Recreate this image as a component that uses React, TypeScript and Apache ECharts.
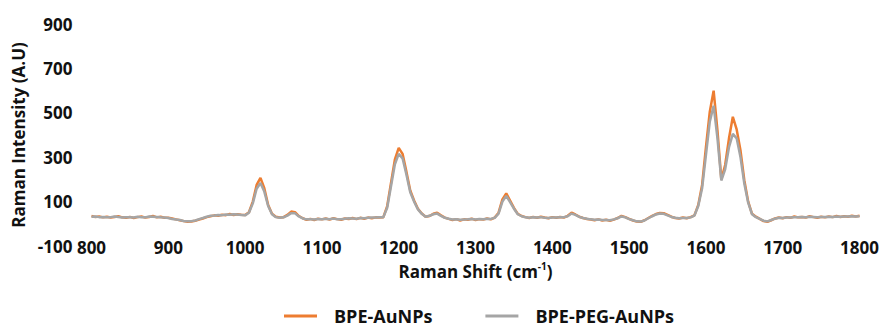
import { useEffect, useRef } from "react";
import * as echarts from "echarts";

// Raman shift sampling grid (cm-1)
const X_START = 800;
const X_STEP = 5;

const SERIES_NAMES = ["BPE-AuNPs", "BPE-PEG-AuNPs"];
const SERIES_COLORS = ["#ED7D31", "#A5A5A5"];

// Values, 800..1800 cm-1 every 5 cm-1
const BPE_AUNPS = [
  35, 31, 33, 29, 32, 28, 31, 34, 29, 27,
  31, 26, 30, 33, 28, 31, 35, 29, 32, 27,
  27, 24, 20, 16, 12, 9, 10, 14, 19, 24,
  30, 34, 38, 36, 41, 39, 44, 40, 43, 41,
  40, 52, 100, 175, 207, 160, 85, 45, 32, 28,
  30, 40, 55, 52, 35, 25, 18, 22, 17, 23,
  20, 24, 19, 25, 21, 18, 24, 22, 26, 21,
  27, 23, 28, 25, 29, 28, 30, 80, 185, 290,
  342, 315, 235, 150, 105, 68, 46, 32, 35, 45,
  50, 38, 28, 22, 17, 21, 15, 20, 18, 23,
  17, 21, 19, 24, 20, 28, 50, 110, 137, 105,
  72, 45, 35, 30, 26, 31, 27, 32, 28, 25,
  30, 27, 31, 28, 36, 50, 42, 32, 26, 22,
  19, 16, 20, 15, 18, 14, 19, 26, 36, 30,
  22, 15, 10, 9, 16, 26, 36, 44, 49, 48,
  40, 32, 26, 24, 28, 25, 30, 38, 85, 175,
  345, 505, 600, 420, 200, 265, 385, 482, 425, 330,
  195, 100, 45, 32, 22, 12, 9, 16, 24, 28,
  25, 30, 27, 33, 29, 31, 28, 34, 30, 27,
  32, 29, 33, 30, 35, 31, 34, 32, 36, 33,
  36,
];

const BPE_PEG_AUNPS = [
  32, 33, 30, 31, 29, 30, 33, 31, 28, 30,
  29, 28, 32, 30, 29, 33, 32, 31, 29, 28,
  26, 22, 19, 17, 13, 11, 12, 15, 21, 26,
  32, 36, 37, 40, 39, 42, 41, 43, 42, 40,
  38, 50, 92, 158, 184, 145, 80, 43, 30, 27,
  29, 37, 48, 47, 33, 24, 20, 21, 19, 22,
  21, 23, 21, 24, 20, 21, 23, 25, 24, 23,
  26, 25, 27, 28, 28, 29, 30, 72, 170, 268,
  315, 295, 222, 142, 100, 65, 45, 32, 36, 43,
  46, 36, 27, 23, 19, 20, 18, 19, 20, 22,
  19, 22, 21, 23, 22, 27, 46, 100, 126, 98,
  68, 43, 34, 29, 27, 29, 28, 30, 27, 26,
  28, 28, 29, 30, 34, 46, 40, 31, 26, 23,
  20, 18, 19, 17, 17, 16, 20, 25, 33, 29,
  21, 16, 11, 10, 15, 25, 34, 42, 46, 45,
  38, 31, 27, 25, 26, 26, 29, 37, 80, 160,
  310, 460, 532, 385, 195, 245, 345, 405, 385, 300,
  180, 95, 43, 30, 22, 14, 11, 17, 23, 27,
  26, 28, 28, 30, 30, 31, 30, 32, 31, 30,
  31, 31, 32, 31, 33, 32, 33, 33, 34, 33,
  34,
];

const X_AXIS = { min: 800, max: 1800, interval: 100 };
const Y_AXIS = { min: -100, max: 900, interval: 200 };

const FONT = "'Open Sans', 'Noto Sans', 'DejaVu Sans', sans-serif";
const TEXT_COLOR = "#111111";

function toPairs(values: number[]) {
  return values.map((v, i) => [X_START + i * X_STEP, v]);
}

export default function App() {
  const ref = useRef<HTMLDivElement>(null);

  useEffect(() => {
    if (!ref.current) return;
    const chart = echarts.init(ref.current, null, { renderer: "svg" });
    const allValues = [BPE_AUNPS, BPE_PEG_AUNPS];
    chart.setOption({
      animation: false,
      backgroundColor: "#ffffff",
      grid: { left: 91.5, right: 22, top: 24, bottom: 81, containLabel: false },
      legend: {
        left: 284,
        top: 306,
        padding: 0,
        icon: "rect",
        itemWidth: 33,
        itemHeight: 3,
        itemGap: 53,
        data: SERIES_NAMES,
        textStyle: {
          fontFamily: FONT,
          fontSize: 18,
          lineHeight: 20,
          fontWeight: "bold",
          color: TEXT_COLOR,
          padding: [0, 0, 0, 12],
        },
      },
      xAxis: {
        type: "value",
        min: X_AXIS.min,
        max: X_AXIS.max,
        interval: X_AXIS.interval,
        name: "{t|Raman Shift (cm}{s|-1}{t|)}",
        nameLocation: "middle",
        nameGap: 14,
        nameTextStyle: {
          rich: {
            t: { fontFamily: FONT, fontSize: 17, fontWeight: "bold", color: TEXT_COLOR, lineHeight: 22 },
            s: { fontFamily: FONT, fontSize: 10, fontWeight: "bold", color: TEXT_COLOR, verticalAlign: "top", lineHeight: 12 },
          },
        },
        axisLine: { show: false },
        axisTick: { show: false },
        splitLine: { show: false },
        axisLabel: {
          margin: -7,
          fontFamily: FONT,
          fontSize: 17,
          fontWeight: "bold",
          color: TEXT_COLOR,
          formatter: (v: number) => String(v),
        },
      },
      yAxis: {
        type: "value",
        min: Y_AXIS.min,
        max: Y_AXIS.max,
        interval: Y_AXIS.interval,
        name: "Raman Intensity (A.U)",
        nameLocation: "middle",
        nameGap: 62,
        nameTextStyle: { fontFamily: FONT, fontSize: 17, fontWeight: "bold", color: TEXT_COLOR },
        axisLine: { show: false },
        axisTick: { show: false },
        splitLine: { show: false },
        axisLabel: {
          margin: 19,
          fontFamily: FONT,
          fontSize: 17,
          fontWeight: "bold",
          color: TEXT_COLOR,
          formatter: (v: number) => String(v),
        },
      },
      series: SERIES_NAMES.map((name, i) => ({
        name,
        type: "line",
        data: toPairs(allValues[i]),
        showSymbol: false,
        symbol: "none",
        color: SERIES_COLORS[i],
        lineStyle: { width: 2.5, color: SERIES_COLORS[i] },
        z: 2 + i,
      })),
    });
    return () => chart.dispose();
  }, []);

  return (
    <div
      ref={ref}
      style={{ position: "fixed", left: 0, top: 0, width: 882, height: 327 }}
    />
  );
}
